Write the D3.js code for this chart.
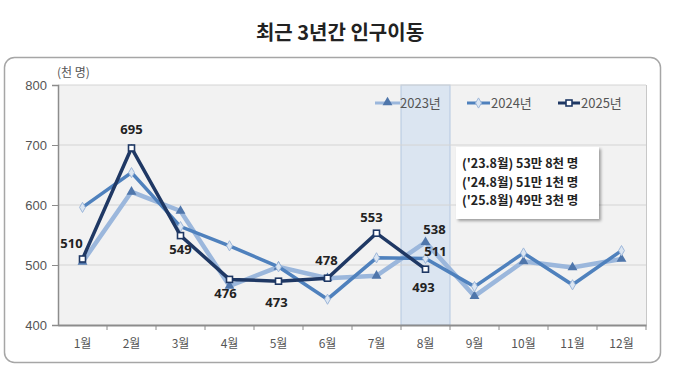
<!DOCTYPE html>
<html><head><meta charset="utf-8">
<script src="https://cdn.jsdelivr.net/npm/d3@7"></script>
<style>
html,body{margin:0;padding:0;background:#fff;}
svg{display:block;}
</style></head>
<body>
<svg id="c" width="680" height="366"></svg>
<script>
const months = ["1월","2월","3월","4월","5월","6월","7월","8월","9월","10월","11월","12월"];
const v2023 = [505,622,590,465,497,478,482,538,448,506,496,510];
const v2024 = [596,654,564,532,497,443,512,511,464,520,467,524];
const v2025 = [510,695,549,476,473,478,553,493];
const yTicks = [400,500,600,700,800];
const seriesNames = ["2023년","2024년","2025년"];
const noteLines = ["('23.8월) 53만 8천 명","('24.8월) 51만 1천 명","('25.8월) 49만 3천 명"];
const highlightMonth = "8월";

const svg = d3.select("#c");
const FONT = "'Noto Sans CJK KR','Noto Sans',sans-serif";
const L = 58, R = 646, T = 85, B = 325;
const x = d3.scaleBand().domain(months).range([L, R]);
const y = d3.scaleLinear().domain([400, 800]).range([B, T]);
const cx = m => x(m) + x.bandwidth() / 2;

// title
svg.append("text").attr("x", 340).attr("y", 40).attr("text-anchor", "middle")
  .attr("font-family", FONT).attr("font-weight", "bold").attr("font-size", 20)
  .attr("fill", "#222").text("최근 3년간 인구이동");

// outer box
svg.append("rect").attr("x", 4.5).attr("y", 57.5).attr("width", 656).attr("height", 305)
  .attr("rx", 10).attr("fill", "#fff").attr("stroke", "#a6a6a6").attr("stroke-width", 1.5);

// plot bg
svg.append("rect").attr("x", L).attr("y", T).attr("width", R - L).attr("height", B - T)
  .attr("fill", "#f2f2f2");

// highlight band
svg.append("rect").attr("x", x(highlightMonth)).attr("y", T).attr("width", x.bandwidth()).attr("height", B - T)
  .attr("fill", "#dbe5f1").attr("stroke", "#b4c7e0").attr("stroke-width", 1);

// gridlines
svg.append("g").selectAll("line").data(yTicks.filter(d => d > 400)).join("line")
  .attr("x1", L).attr("x2", R).attr("y1", d => y(d)).attr("y2", d => y(d))
  .attr("stroke", "#d4d4d4").attr("stroke-width", 1);
svg.append("line").attr("x1", R + 0.5).attr("x2", R + 0.5).attr("y1", T).attr("y2", B)
  .attr("stroke", "#c8c8c8");

// y axis
const ya = svg.append("g").attr("transform", `translate(${L},0)`)
  .call(d3.axisLeft(y).tickValues(yTicks).tickSize(6).tickPadding(5));
ya.select(".domain").attr("stroke", "#8c8c8c").attr("stroke-width", 1.5);
ya.selectAll(".tick line").attr("stroke", "#8c8c8c");
ya.selectAll("text").attr("font-family", "'Liberation Sans',Arial,sans-serif").attr("font-size", 13).attr("fill", "#555");

// x axis
const xa = svg.append("g").attr("transform", `translate(0,${B})`)
  .call(d3.axisBottom(x).tickSize(0).tickPadding(14));
xa.select(".domain").attr("stroke", "#8c8c8c").attr("stroke-width", 2);
xa.selectAll("text").attr("font-family", FONT).attr("font-size", 12).attr("fill", "#555");
svg.append("g").selectAll("line").data(months.slice(1).concat(["end"])).join("line")
  .attr("x1", d => d === "end" ? R : x(d)).attr("x2", d => d === "end" ? R : x(d))
  .attr("y1", B).attr("y2", B + 5).attr("stroke", "#8c8c8c");

// unit label
svg.append("text").attr("x", 57).attr("y", 77).attr("font-family", FONT).attr("font-size", 12)
  .attr("fill", "#555").text("(천 명)");

const line = d3.line().x((d, i) => cx(months[i])).y(d => y(d));
const C23 = "#9bb7dc", C23m = "#4f76ab", C24 = "#4f81bd", C24m = "#dce6f2", C25 = "#1f3864";

// 2023
svg.append("path").datum(v2023).attr("d", line).attr("fill", "none")
  .attr("stroke", C23).attr("stroke-width", 4.5).attr("stroke-linejoin", "miter");
const tri = d3.symbol().type(d3.symbolTriangle).size(42);
svg.append("g").selectAll("path").data(v2023).join("path")
  .attr("transform", (d, i) => `translate(${cx(months[i])},${y(d)})`)
  .attr("d", tri).attr("fill", C23m);

// 2024
svg.append("path").datum(v2024).attr("d", line).attr("fill", "none")
  .attr("stroke", C24).attr("stroke-width", 3.5);
const dia = d3.symbol().type(d3.symbolDiamond).size(30);
svg.append("g").selectAll("path").data(v2024).join("path")
  .attr("transform", (d, i) => `translate(${cx(months[i])},${y(d)})`)
  .attr("d", dia).attr("fill", C24m).attr("stroke", "#9db7da").attr("stroke-width", 1);

// 2025
svg.append("path").datum(v2025).attr("d", line).attr("fill", "none")
  .attr("stroke", C25).attr("stroke-width", 3.5);
svg.append("g").selectAll("rect").data(v2025).join("rect")
  .attr("x", (d, i) => cx(months[i]) - 3).attr("y", d => y(d) - 3)
  .attr("width", 6).attr("height", 6).attr("fill", "#fff").attr("stroke", C25).attr("stroke-width", 1.6);

// labels for 2025
const lblOff = [[-11,-11],[0,-14],[0,18],[-4,19],[-2,26],[-1,-13],[-5,-11],[-2,23]];
svg.append("g").selectAll("text").data(v2025).join("text")
  .attr("x", (d, i) => cx(months[i]) + lblOff[i][0]).attr("y", (d, i) => y(d) + lblOff[i][1])
  .attr("text-anchor", "middle").attr("font-family", "'Open Sans','DejaVu Sans',sans-serif")
  .attr("font-weight", "bold").attr("font-size", 13).attr("fill", "#222").text(d => d);
// Aug labels for 2023 & 2024
const ai = months.indexOf(highlightMonth);
svg.append("text").attr("x", cx(highlightMonth) + 9).attr("y", y(v2023[ai]) - 8)
  .attr("text-anchor", "middle").attr("font-family", "'Open Sans','DejaVu Sans',sans-serif")
  .attr("font-weight", "bold").attr("font-size", 13).attr("fill", "#222").text(v2023[ai]);
svg.append("text").attr("x", cx(highlightMonth) + 10).attr("y", y(v2024[ai]) - 2)
  .attr("text-anchor", "middle").attr("font-family", "'Open Sans','DejaVu Sans',sans-serif")
  .attr("font-weight", "bold").attr("font-size", 13).attr("fill", "#222").text(v2024[ai]);

// legend
const lg = svg.append("g");
const legX = [375, 467, 558];
const legY = 103;
// 2023
lg.append("line").attr("x1", legX[0]).attr("x2", legX[0] + 25).attr("y1", legY).attr("y2", legY).attr("stroke", C23).attr("stroke-width", 3);
lg.append("path").attr("transform", `translate(${legX[0] + 12.5},${legY - 0.5})`).attr("d", tri).attr("fill", C23m);
// 2024
lg.append("line").attr("x1", legX[1]).attr("x2", legX[1] + 23).attr("y1", legY).attr("y2", legY).attr("stroke", C24).attr("stroke-width", 3);
lg.append("path").attr("transform", `translate(${legX[1] + 11.5},${legY})`).attr("d", dia).attr("fill", C24m).attr("stroke", "#9db7da");
// 2025
lg.append("line").attr("x1", legX[2]).attr("x2", legX[2] + 22).attr("y1", legY).attr("y2", legY).attr("stroke", C25).attr("stroke-width", 3);
lg.append("rect").attr("x", legX[2] + 8).attr("y", legY - 3).attr("width", 6).attr("height", 6).attr("fill", "#fff").attr("stroke", C25).attr("stroke-width", 1.6);
const legTX = [400, 491, 581];
seriesNames.forEach((n, i) => {
  lg.append("text").attr("x", legTX[i]).attr("y", legY + 5).attr("font-family", FONT)
    .attr("font-size", 13).attr("fill", "#555").text(n);
});

// note box
const defs = svg.append("defs");
const f = defs.append("filter").attr("id", "sh").attr("x", "-10%").attr("y", "-10%").attr("width", "130%").attr("height", "140%");
f.append("feDropShadow").attr("dx", 2).attr("dy", 2).attr("stdDeviation", 1.5).attr("flood-color", "#000").attr("flood-opacity", 0.35);
svg.append("rect").attr("x", 456).attr("y", 147).attr("width", 143).attr("height", 72)
  .attr("fill", "#fff").attr("filter", "url(#sh)");
noteLines.forEach((t, i) => {
  svg.append("text").attr("x", 462).attr("y", 168 + i * 18.5).attr("font-family", FONT)
    .attr("font-weight", "bold").attr("font-size", 12.5).attr("fill", "#222").text(t);
});
</script>
</body></html>
